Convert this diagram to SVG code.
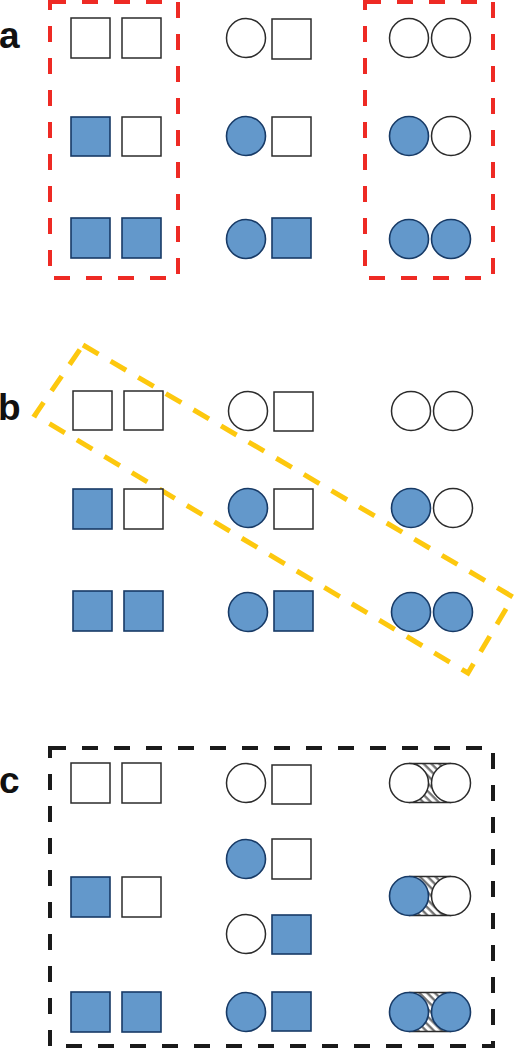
<svg xmlns="http://www.w3.org/2000/svg" width="516" height="1050" viewBox="0 0 516 1050">
<defs>
<style>
.e{fill:#fff;stroke:#2b2b2b;stroke-width:1.5}
.f{fill:#6398cb;stroke:#173a66;stroke-width:1.6}
.lbl{font-family:"Liberation Sans",Arial,sans-serif;font-weight:bold;font-size:37px;fill:#111}
.red{fill:none;stroke:#ee2a24;stroke-width:4;stroke-dasharray:16 16}
.yel{fill:none;stroke:#fdc80e;stroke-width:5;stroke-dasharray:18 14}
.blk{fill:none;stroke:#1a1a1a;stroke-width:4;stroke-dasharray:16 16}
.hl{stroke:#2b2b2b;stroke-width:1.3}
</style>
<pattern id="hatch" patternUnits="userSpaceOnUse" width="5.5" height="5.5" patternTransform="rotate(-45)">
<rect width="5.5" height="5.5" fill="#fff"/>
<line x1="1.5" y1="0" x2="1.5" y2="5.5" stroke="#6a6a6a" stroke-width="2.2"/>
</pattern>
</defs>
<rect width="516" height="1050" fill="#fff"/>

<!-- labels -->
<text class="lbl" x="-1" y="48">a</text>
<text class="lbl" x="-2" y="420">b</text>
<text class="lbl" x="-1" y="793">c</text>

<!-- groupings -->
<rect class="red" x="50" y="2" width="128" height="276"/>
<rect class="red" x="365" y="2" width="128" height="276"/>
<polygon class="yel" points="83,345 513,597 468,673 35,415"/>
<rect class="blk" x="50" y="748" width="443" height="298"/>

<!-- connectors (hatched links in c) -->
<g id="connectors">
<g><rect x="409" y="763.5" width="42" height="39" fill="url(#hatch)"/><line class="hl" x1="409" y1="763.5" x2="451" y2="763.5"/><line class="hl" x1="409" y1="802.5" x2="451" y2="802.5"/></g>
<g><rect x="409" y="876.5" width="42" height="39" fill="url(#hatch)"/><line class="hl" x1="409" y1="876.5" x2="451" y2="876.5"/><line class="hl" x1="409" y1="915.5" x2="451" y2="915.5"/></g>
<g><rect x="409" y="992.5" width="42" height="39" fill="url(#hatch)"/><line class="hl" x1="409" y1="992.5" x2="451" y2="992.5"/><line class="hl" x1="409" y1="1031.5" x2="451" y2="1031.5"/></g>
</g>

<!-- panel a -->
<g id="a-r1-sq"><rect class="e" x="71" y="18" width="39" height="40"/><rect class="e" x="122" y="18" width="39" height="40"/></g>
<g id="a-r2-sq"><rect class="f" x="71" y="117" width="39" height="39"/><rect class="e" x="122" y="117" width="39" height="39"/></g>
<g id="a-r3-sq"><rect class="f" x="71" y="218" width="39" height="40"/><rect class="f" x="122" y="218" width="39" height="40"/></g>
<g id="a-r1-mix"><circle class="e" cx="246" cy="38" r="19.5"/><rect class="e" x="272" y="19" width="39" height="40"/></g>
<g id="a-r2-mix"><circle class="f" cx="246" cy="136" r="19.5"/><rect class="e" x="272" y="117" width="39" height="39"/></g>
<g id="a-r3-mix"><circle class="f" cx="246" cy="239" r="19.5"/><rect class="f" x="272" y="218" width="39" height="40"/></g>
<g id="a-r1-ci"><circle class="e" cx="409" cy="38" r="19.5"/><circle class="e" cx="451" cy="38" r="19.5"/></g>
<g id="a-r2-ci"><circle class="f" cx="409" cy="136" r="19.5"/><circle class="e" cx="451" cy="136" r="19.5"/></g>
<g id="a-r3-ci"><circle class="f" cx="409" cy="239" r="19.5"/><circle class="f" cx="451" cy="239" r="19.5"/></g>

<!-- panel b -->
<g id="b-r1-sq"><rect class="e" x="73" y="391" width="39" height="39"/><rect class="e" x="124" y="391" width="39" height="39"/></g>
<g id="b-r2-sq"><rect class="f" x="73" y="489" width="39" height="40"/><rect class="e" x="124" y="489" width="39" height="40"/></g>
<g id="b-r3-sq"><rect class="f" x="73" y="591" width="39" height="40"/><rect class="f" x="124" y="591" width="39" height="40"/></g>
<g id="b-r1-mix"><circle class="e" cx="248" cy="411" r="19.5"/><rect class="e" x="274" y="392" width="39" height="39"/></g>
<g id="b-r2-mix"><circle class="f" cx="248" cy="508" r="19.5"/><rect class="e" x="274" y="489" width="39" height="40"/></g>
<g id="b-r3-mix"><circle class="f" cx="248" cy="612" r="19.5"/><rect class="f" x="274" y="591" width="39" height="40"/></g>
<g id="b-r1-ci"><circle class="e" cx="411" cy="411" r="19.5"/><circle class="e" cx="453" cy="411" r="19.5"/></g>
<g id="b-r2-ci"><circle class="f" cx="411" cy="508" r="19.5"/><circle class="e" cx="453" cy="508" r="19.5"/></g>
<g id="b-r3-ci"><circle class="f" cx="411" cy="612" r="19.5"/><circle class="f" cx="453" cy="612" r="19.5"/></g>

<!-- panel c -->
<g id="c-r1-sq"><rect class="e" x="71" y="763" width="39" height="40"/><rect class="e" x="122" y="763" width="39" height="40"/></g>
<g id="c-r2-sq"><rect class="f" x="71" y="877" width="39" height="40"/><rect class="e" x="122" y="877" width="39" height="40"/></g>
<g id="c-r3-sq"><rect class="f" x="71" y="992" width="39" height="40"/><rect class="f" x="122" y="992" width="39" height="40"/></g>
<g id="c-r1-mix"><circle class="e" cx="246" cy="783" r="19.5"/><rect class="e" x="272" y="765" width="39" height="39"/></g>
<g id="c-r2-mix"><circle class="f" cx="246" cy="859" r="19.5"/><rect class="e" x="272" y="839" width="39" height="40"/></g>
<g id="c-r3-mix"><circle class="e" cx="246" cy="934" r="19.5"/><rect class="f" x="272" y="915" width="39" height="39"/></g>
<g id="c-r4-mix"><circle class="f" cx="246" cy="1012" r="19.5"/><rect class="f" x="272" y="992" width="39" height="39"/></g>
<g id="c-r1-ci"><circle class="e" cx="409" cy="783" r="19.5"/><circle class="e" cx="451" cy="783" r="19.5"/></g>
<g id="c-r2-ci"><circle class="f" cx="409" cy="896" r="19.5"/><circle class="e" cx="451" cy="896" r="19.5"/></g>
<g id="c-r3-ci"><circle class="f" cx="409" cy="1012" r="19.5"/><circle class="f" cx="451" cy="1012" r="19.5"/></g>
</svg>
